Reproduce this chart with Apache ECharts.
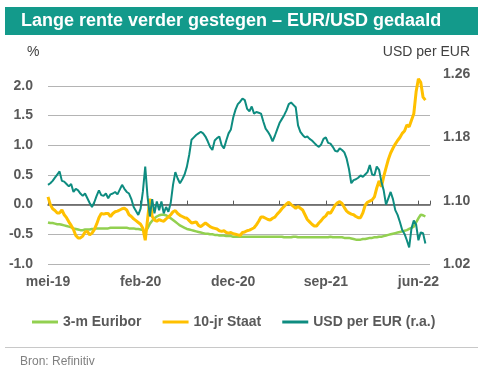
<!DOCTYPE html>
<html><head><meta charset="utf-8">
<script src="https://cdn.jsdelivr.net/npm/echarts@6/dist/echarts.min.js"></script>
<style>html,body{margin:0;padding:0;background:#fff}#c{width:499px;height:379px}</style>
</head><body><div id="c"></div>
<script>
// Weekly observations, week 0 = 20 May 2019
const xLabels = ['mei-19','feb-20','dec-20','sep-21','jun-22'];
const euribor = [
-0.30,-0.31,-0.31,-0.32,-0.33,-0.33,-0.34,-0.35,-0.36,-0.37,
-0.38,-0.40,-0.41,-0.42,-0.43,-0.43,-0.42,-0.42,-0.42,-0.41,
-0.41,-0.40,-0.40,-0.40,-0.40,-0.40,-0.40,-0.39,-0.39,-0.39,
-0.39,-0.39,-0.39,-0.39,-0.39,-0.40,-0.40,-0.40,-0.41,-0.41,
-0.42,-0.43,-0.45,-0.40,-0.32,-0.27,-0.23,-0.20,-0.18,-0.17,
-0.17,-0.18,-0.20,-0.23,-0.26,-0.29,-0.32,-0.35,-0.37,-0.39,
-0.41,-0.42,-0.43,-0.44,-0.45,-0.46,-0.47,-0.48,-0.49,-0.49,
-0.50,-0.50,-0.51,-0.51,-0.52,-0.52,-0.52,-0.53,-0.53,-0.53,
-0.54,-0.54,-0.54,-0.54,-0.54,-0.54,-0.54,-0.54,-0.54,-0.54,
-0.54,-0.54,-0.54,-0.54,-0.54,-0.54,-0.54,-0.54,-0.54,-0.54,
-0.54,-0.54,-0.55,-0.55,-0.55,-0.55,-0.54,-0.54,-0.55,-0.55,
-0.55,-0.55,-0.55,-0.55,-0.55,-0.55,-0.55,-0.55,-0.55,-0.55,
-0.55,-0.55,-0.54,-0.55,-0.55,-0.55,-0.55,-0.55,-0.56,-0.56,
-0.56,-0.57,-0.58,-0.59,-0.59,-0.59,-0.58,-0.58,-0.57,-0.56,
-0.56,-0.55,-0.55,-0.54,-0.54,-0.53,-0.52,-0.51,-0.50,-0.49,
-0.48,-0.47,-0.46,-0.45,-0.44,-0.43,-0.41,-0.39,-0.37,-0.30,
-0.23,-0.17,-0.18,-0.20];
const staat = [
0.13,0.00,-0.07,-0.10,-0.14,-0.14,-0.09,-0.17,-0.22,-0.29,
-0.35,-0.42,-0.52,-0.56,-0.56,-0.53,-0.46,-0.45,-0.51,-0.48,
-0.42,-0.33,-0.22,-0.15,-0.16,-0.15,-0.15,-0.20,-0.15,-0.12,
-0.11,-0.09,-0.07,-0.06,-0.09,-0.17,-0.20,-0.24,-0.27,-0.30,
-0.33,-0.40,-0.60,-0.25,0.10,-0.20,-0.26,-0.28,-0.25,-0.27,
-0.28,-0.24,-0.21,-0.17,-0.12,-0.10,-0.15,-0.18,-0.20,-0.22,
-0.23,-0.27,-0.31,-0.30,-0.29,-0.35,-0.37,-0.34,-0.31,-0.34,
-0.37,-0.39,-0.40,-0.41,-0.44,-0.45,-0.44,-0.47,-0.48,-0.47,
-0.49,-0.50,-0.51,-0.52,-0.47,-0.46,-0.44,-0.43,-0.41,-0.39,
-0.34,-0.28,-0.21,-0.21,-0.23,-0.25,-0.26,-0.23,-0.21,-0.16,
-0.12,-0.07,-0.03,0.01,0.04,0.00,-0.03,-0.06,-0.03,-0.06,
-0.09,-0.17,-0.25,-0.29,-0.33,-0.36,-0.36,-0.31,-0.27,-0.22,
-0.19,-0.13,-0.145,-0.08,-0.01,0.03,0.05,0.02,-0.05,-0.11,
-0.14,-0.16,-0.17,-0.20,-0.22,-0.22,-0.14,-0.01,0.04,0.06,
0.08,0.13,0.28,0.40,0.30,0.47,0.62,0.76,0.87,0.95,
1.02,1.08,1.13,1.20,1.24,1.34,1.31,1.42,1.53,1.90,
2.12,2.06,1.81,1.76];
const usdEur = [
1.120,1.122,1.125,1.129,1.133,1.137,1.125,1.124,1.121,1.118,
1.121,1.111,1.115,1.113,1.109,1.106,1.109,1.103,1.097,1.092,
1.098,1.106,1.113,1.107,1.106,1.109,1.103,1.108,1.109,1.111,
1.108,1.114,1.120,1.115,1.111,1.109,1.102,1.092,1.087,1.082,
1.090,1.112,1.143,1.105,1.080,1.102,1.084,1.099,1.088,1.099,
1.084,1.092,1.086,1.097,1.120,1.136,1.128,1.122,1.127,1.133,
1.143,1.158,1.177,1.180,1.183,1.185,1.187,1.185,1.181,1.175,
1.168,1.164,1.176,1.179,1.181,1.170,1.166,1.176,1.185,1.190,
1.205,1.215,1.222,1.225,1.229,1.227,1.216,1.213,1.219,1.210,
1.212,1.211,1.210,1.200,1.191,1.187,1.182,1.175,1.182,1.190,
1.198,1.203,1.208,1.214,1.222,1.224,1.221,1.218,1.195,1.187,
1.183,1.180,1.181,1.178,1.176,1.173,1.170,1.168,1.171,1.178,
1.180,1.173,1.172,1.168,1.163,1.162,1.166,1.164,1.161,1.153,
1.140,1.122,1.126,1.127,1.129,1.132,1.130,1.133,1.136,1.145,
1.133,1.132,1.143,1.139,1.124,1.113,1.095,1.103,1.111,1.102,
1.088,1.082,1.073,1.063,1.058,1.050,1.041,1.065,1.075,1.070,
1.050,1.060,1.059,1.046];

const F = '"Liberation Sans", Arial, sans-serif';
const GREEN = '#92D050', YELLOW = '#FFC000', TEAL = '#0E8C80';
const AX = '#595959';
const chart = echarts.init(document.getElementById('c'));
const pts = a => a.map((v, i) => [i, v]);
chart.setOption({
  animation: false,
  backgroundColor: '#fff',
  textStyle: {fontFamily: F},
  grid: {left: 48, right: 69, top: 74, bottom: 115},
  xAxis: [
    {type: 'value', min: 0, max: 165, interval: 20,
     axisLine: {onZero: true, onZeroAxisIndex: 0, lineStyle: {color: AX, width: 1.5}},
     axisTick: {inside: true, length: 4, lineStyle: {color: AX, width: 1}},
     axisLabel: {show: false}, splitLine: {show: false}},
    {type: 'value', min: 0, max: 165, interval: 40, position: 'bottom',
     axisLine: {show: false, onZero: false}, axisTick: {show: false}, splitLine: {show: false},
     axisLabel: {margin: 11, color: AX, fontWeight: 'bold', fontSize: 14, fontFamily: F,
       formatter: v => (v % 40 === 0 && xLabels[v / 40]) ? xLabels[v / 40] : ''}}
  ],
  yAxis: [
    {type: 'value', min: -1, max: 2.2, interval: 0.5,
     axisLine: {show: false}, axisTick: {show: false},
     axisLabel: {margin: 15, color: AX, fontWeight: 'bold', fontSize: 14, fontFamily: F,
       showMaxLabel: false, formatter: v => v.toFixed(1)},
     splitLine: {show: true, showMaxLine: false, lineStyle: {color: '#b4b4b4', width: 1}}},
    {type: 'value', min: 1.02, max: 1.26, interval: 0.08, position: 'right',
     axisLine: {show: false}, axisTick: {show: false}, splitLine: {show: false},
     axisLabel: {margin: 13, color: AX, fontWeight: 'bold', fontSize: 14, fontFamily: F,
       formatter: v => v.toFixed(2)}}
  ],
  legend: {
    left: 27, top: 310, icon: 'rect', itemWidth: 26, itemHeight: 3, itemGap: 21,
    textStyle: {color: AX, fontWeight: 'bold', fontSize: 14, fontFamily: F},
    data: ['3-m Euribor', '10-jr Staat', 'USD per EUR (r.a.)']
  },
  series: [
    {name: '3-m Euribor', type: 'line', xAxisIndex: 0, yAxisIndex: 0, data: pts(euribor),
     symbol: 'none', lineStyle: {color: GREEN, width: 2.5}, itemStyle: {color: GREEN}},
    {name: '10-jr Staat', type: 'line', xAxisIndex: 0, yAxisIndex: 0, data: pts(staat),
     symbol: 'none', lineStyle: {color: YELLOW, width: 3}, itemStyle: {color: YELLOW}},
    {name: 'USD per EUR (r.a.)', type: 'line', xAxisIndex: 0, yAxisIndex: 1, data: pts(usdEur),
     symbol: 'none', lineStyle: {color: TEAL, width: 2}, itemStyle: {color: TEAL}}
  ],
  graphic: [
    {type: 'rect', silent: true, shape: {x: 5, y: 7, width: 473, height: 28}, style: {fill: '#139A8B'}},
    {type: 'text', silent: true, x: 21, y: 21.5,
     style: {text: 'Lange rente verder gestegen – EUR/USD gedaald', fill: '#fff',
       fontSize: 18, fontWeight: 'bold', fontFamily: F, verticalAlign: 'middle'}},
    {type: 'text', silent: true, x: 27, y: 52,
     style: {text: '%', fill: '#404040', fontSize: 14, fontFamily: F, verticalAlign: 'middle'}},
    {type: 'text', silent: true, x: 470, y: 52,
     style: {text: 'USD per EUR', fill: '#404040', fontSize: 14, fontFamily: F, align: 'right', verticalAlign: 'middle'}},
    {type: 'line', silent: true, shape: {x1: 5, y1: 347.5, x2: 478, y2: 347.5}, style: {stroke: '#c8c8c8', lineWidth: 1}},
    {type: 'text', silent: true, x: 20, y: 362,
     style: {text: 'Bron: Refinitiv', fill: '#808080', fontSize: 12, fontFamily: F, verticalAlign: 'middle'}}
  ]
});
</script>
</body></html>
